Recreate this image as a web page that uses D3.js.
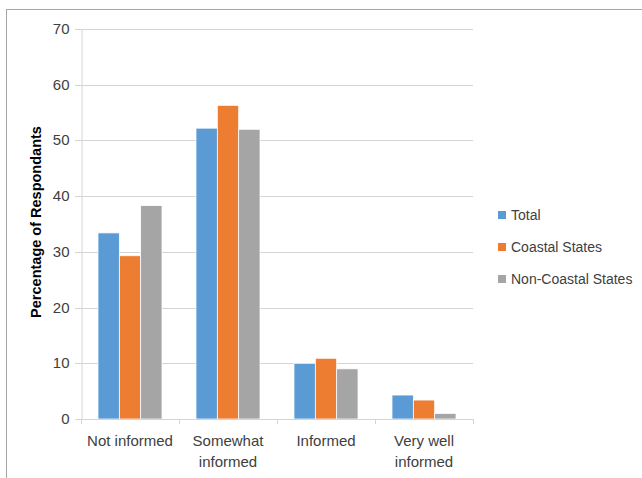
<!DOCTYPE html>
<html>
<head>
<meta charset="utf-8">
<script src="https://cdn.jsdelivr.net/npm/d3@7"></script>
<style>
  html, body { margin: 0; padding: 0; background: #fff; }
  svg { display: block; font-family: "Liberation Sans", Arial, sans-serif; }
</style>
</head>
<body>
<svg id="chart" width="642" height="478"></svg>
<script>
const categories = [["Not informed"], ["Somewhat", "informed"], ["Informed"], ["Very well", "informed"]];
const seriesNames = ["Total", "Coastal States", "Non-Coastal States"];
const totalValues = [33.4, 52.2, 10.0, 4.3];
const coastalValues = [29.3, 56.3, 10.9, 3.4];
const nonCoastalValues = [38.3, 52.0, 9.0, 1.0];
const seriesColors = ["#5b9bd5", "#ed7d31", "#a5a5a5"];
const yTicks = [0, 10, 20, 30, 40, 50, 60, 70];
const yTitle = "Percentage of Respondants";

(function () {
const seriesValues = [totalValues, coastalValues, nonCoastalValues];
const svg = d3.select("#chart");

// chart border
svg.append("rect").attr("x", 6.5).attr("y", 9.5).attr("width", 700).attr("height", 600)
  .attr("fill", "none").attr("stroke", "#a6a6a6").attr("stroke-width", 1);

const pLeft = 81, pRight = 473, pTop = 29, pBottom = 419;
const catKeys = categories.map((c, i) => i);
const x = d3.scaleBand().domain(catKeys).range([pLeft, pRight]).paddingInner(0).paddingOuter(0);
const y = d3.scaleLinear().domain([0, 70]).range([pBottom, pTop]);
const groupPad = 17;
const xs = d3.scaleBand().domain(d3.range(seriesNames.length))
  .range([groupPad, x.bandwidth() - groupPad]);

// gridlines
svg.append("g").selectAll("line").data(yTicks.filter(d => d > 0)).join("line")
  .attr("x1", pLeft - 6).attr("x2", pRight)
  .attr("y1", d => Math.round(y(d)) + 0.5).attr("y2", d => Math.round(y(d)) + 0.5)
  .attr("stroke", "#d4d4d4").attr("stroke-width", 1);

// y axis
const yAxis = svg.append("g").attr("transform", `translate(${pLeft + 0.5},0)`)
  .call(d3.axisLeft(y).tickValues(yTicks).tickSize(6).tickPadding(6));
yAxis.select(".domain").attr("stroke", "#d4d4d4");
yAxis.selectAll(".tick line").attr("stroke", "#d4d4d4");
yAxis.selectAll(".tick text").attr("font-size", "15px").attr("fill", "#404040")
  .attr("font-family", "'Liberation Sans', Arial, sans-serif");
yAxis.selectAll(".tick").attr("transform", d => `translate(0,${Math.round(y(d)) + 0.5})`);

// bars
seriesValues.forEach((vals, si) => {
  svg.append("g").selectAll("rect").data(vals).join("rect")
    .attr("x", (d, i) => x(i) + xs(si))
    .attr("width", xs.bandwidth())
    .attr("y", d => y(d))
    .attr("height", d => y(0) - y(d))
    .attr("fill", seriesColors[si])
    .attr("stroke", "#ffffff").attr("stroke-width", 0.75);
});

// x axis line
svg.append("line").attr("x1", pLeft).attr("x2", pRight)
  .attr("y1", pBottom + 0.5).attr("y2", pBottom + 0.5)
  .attr("stroke", "#d4d4d4");
// category ticks
const bounds = catKeys.map(i => x(i)).concat([pRight]);
svg.append("g").selectAll("line").data(bounds).join("line")
  .attr("x1", d => Math.round(d) + 0.5).attr("x2", d => Math.round(d) + 0.5)
  .attr("y1", pBottom).attr("y2", pBottom + 5)
  .attr("stroke", "#d4d4d4");

// category labels
const lab = svg.append("g").selectAll("text").data(categories).join("text")
  .attr("x", (d, i) => x(i) + x.bandwidth() / 2)
  .attr("y", 446)
  .attr("text-anchor", "middle")
  .attr("font-size", "15px").attr("fill", "#404040");
lab.each(function(lines) {
  d3.select(this).selectAll("tspan").data(lines).join("tspan")
    .attr("x", d3.select(this).attr("x"))
    .attr("dy", (d, j) => j === 0 ? 0 : 21)
    .text(d => d);
});

// y title
svg.append("text")
  .attr("transform", `translate(41,222) rotate(-90)`)
  .attr("text-anchor", "middle")
  .attr("font-size", "14.5px").attr("font-weight", "bold").attr("fill", "#000")
  .text(yTitle);

// legend
const leg = svg.append("g").selectAll("g").data(seriesNames).join("g")
  .attr("transform", (d, i) => `translate(498,${211 + i * 32})`);
leg.append("rect").attr("width", 8).attr("height", 8).attr("fill", (d, i) => seriesColors[i]);
leg.append("text").attr("x", 13).attr("y", 9).attr("font-size", "14px").attr("fill", "#404040").text(d => d);
})();
</script>
</body>
</html>
